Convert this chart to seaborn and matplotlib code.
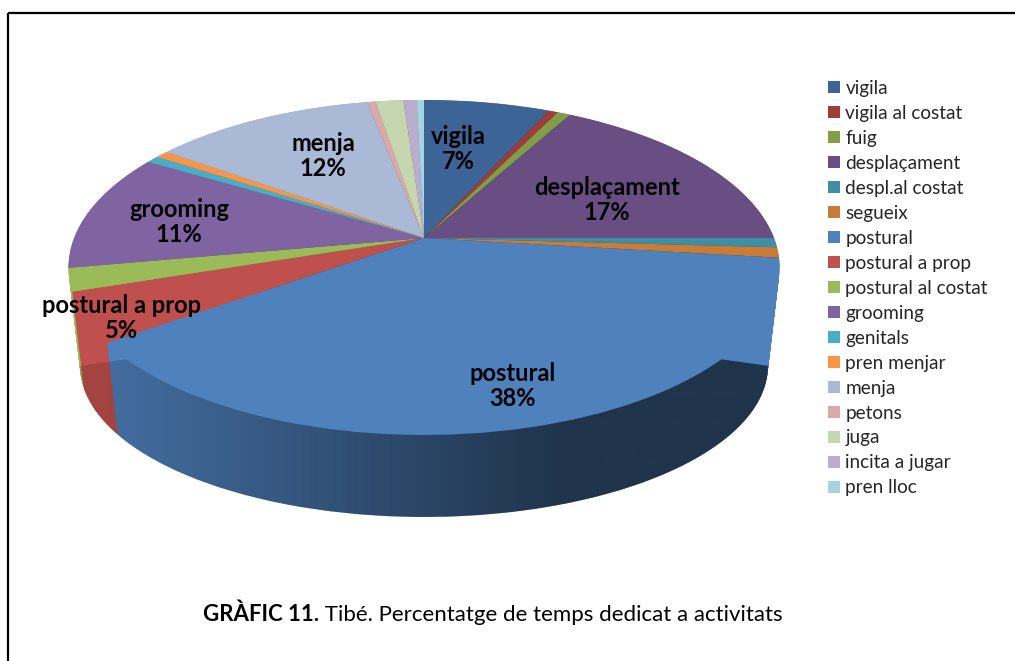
import numpy as np
import matplotlib
matplotlib.use('Agg')
import matplotlib.pyplot as plt
import matplotlib.transforms as mtransforms
from matplotlib.path import Path
from matplotlib.patches import PathPatch, Rectangle
import seaborn as sns

# chart values (percent of time)
activities = ['vigila', 'vigila al costat', 'fuig', 'desplaçament', 'despl.al costat', 'segueix',
              'postural', 'postural a prop', 'postural al costat', 'grooming', 'genitals',
              'pren menjar', 'menja', 'petons', 'juga', 'incita a jugar', 'pren lloc']
percent = [6.8, 0.5, 0.7, 17.0, 0.9, 1.0, 38.25, 4.8, 2.2, 11.4, 0.7, 0.7, 12.0, 0.45, 1.5, 0.7, 0.4]
hex_colors = ['#3C6496', '#A03C3A', '#819D47', '#684E82', '#3D8FA5', '#C97C38',
              '#4F81BD', '#C0504D', '#9BBB59', '#8064A2', '#4BACC6', '#F79646',
              '#AAB9D6', '#D9AAA9', '#C6D6AE', '#B9AFCD', '#A5D3DF']
labelled = ['vigila', 'desplaçament', 'postural', 'postural a prop', 'grooming', 'menja']
label_xy = [(458, 149), (607, 200), (513, 386), (122, 318), (179, 222), (323, 156)]

# top face and bottom face of the "3D" disc: x0, y0, rx, ry, perspective
TOP = np.array([424, 238, 350, 162.3, 0.176])
BOTTOM = np.array([424, 339.4, 338.6, 146.3, 0.176])
N_LAYERS = 70


class Persp(mtransforms.Transform):
    # tilts the unit disc of ax.pie into pixel positions
    input_dims = 2
    output_dims = 2

    def __init__(self, params):
        super().__init__()
        self.params = params

    def transform_non_affine(self, values):
        x0, y0, rx, ry, p = self.params
        u, v = values[:, 0], values[:, 1]
        w = 1 + p * v
        return np.column_stack([x0 + rx * u / w, y0 - ry * v / w])


sns.set_theme(style='white')
plt.rcParams['font.family'] = ['Lato', 'DejaVu Sans']
palette = sns.color_palette(hex_colors)

fig, ax = plt.subplots(figsize=(10.15, 6.61), dpi=100)
fig.subplots_adjust(0, 0, 1, 1)


def draw_disc(params, zorder):
    wedges, _ = ax.pie(percent, colors=palette, startangle=90, counterclock=False,
                       wedgeprops=dict(linewidth=0))
    for w in wedges:
        w.set_transform(Persp(params) + ax.transData)
        w.set_zorder(zorder)
    return wedges


# side wall: stack of discs from bottom to top
for i in range(N_LAYERS):
    draw_disc(BOTTOM + (TOP - BOTTOM) * i / N_LAYERS, 2)

# darken the wall from left to right
tt = np.radians(np.linspace(0, 360, 721))
t_low = np.radians(np.linspace(180 + 10.1, 360 - 10.1, 300))
t_up = np.radians(np.linspace(360 - 10.1, 540 + 10.1 - 360 + 360, 300))
low = Persp(BOTTOM).transform_non_affine(np.column_stack([np.cos(t_low[::-1]), np.sin(t_low[::-1])]))
up = Persp(TOP).transform_non_affine(np.column_stack([np.cos(t_up), np.sin(t_up)]))
outline = PathPatch(Path(np.vstack([up, low, up[:1]])), transform=ax.transData, fc='none', lw=0)
ax.add_patch(outline)
shade = np.zeros((1, 800, 4))
shade[0, :, 3] = np.interp(np.linspace(60, 800, 800), [105, 560, 800], [0.15, 0.6, 0.6])
img = ax.imshow(shade, extent=(60, 800, 530, 90), aspect='auto', zorder=3, interpolation='bilinear')
img.set_clip_path(outline)

top_wedges = draw_disc(TOP, 4)

ax.set_aspect('auto')
ax.set_xlim(0, 1015)
ax.set_ylim(661, 0)
ax.set_xticks([])
ax.set_yticks([])
ax.set_frame_on(False)

# outer frame, runs off the right and bottom of the picture
ax.add_patch(Rectangle((8, 13), 1200, 800, fill=False, ec='black', lw=1.6, zorder=1))

for name, (lx, ly) in zip(labelled, label_xy):
    val = percent[activities.index(name)]
    ax.text(lx, ly, f'{name}\n{val:.0f}%', ha='center', va='center', fontsize=17,
            fontweight='bold', color='black', linespacing=1.12, zorder=6)

ax.legend(top_wedges, activities, loc='upper left', bbox_to_anchor=(820, 72), bbox_transform=ax.transData,
          frameon=False, fontsize=13.7, handlelength=0.63, handleheight=0.63,
          handletextpad=0.3, labelspacing=0.42, borderaxespad=0, borderpad=0.4)

cap = ax.text(203, 621, 'GRÀFIC 11.', fontsize=16, fontweight='bold', ha='left', va='baseline', color='black')
ax.annotate(' Tibé. Percentatge de temps dedicat a activitats', xy=(1, 0), xycoords=cap,
            fontsize=16, ha='left', va='bottom', color='black')

fig.savefig('out.png', dpi=100)
